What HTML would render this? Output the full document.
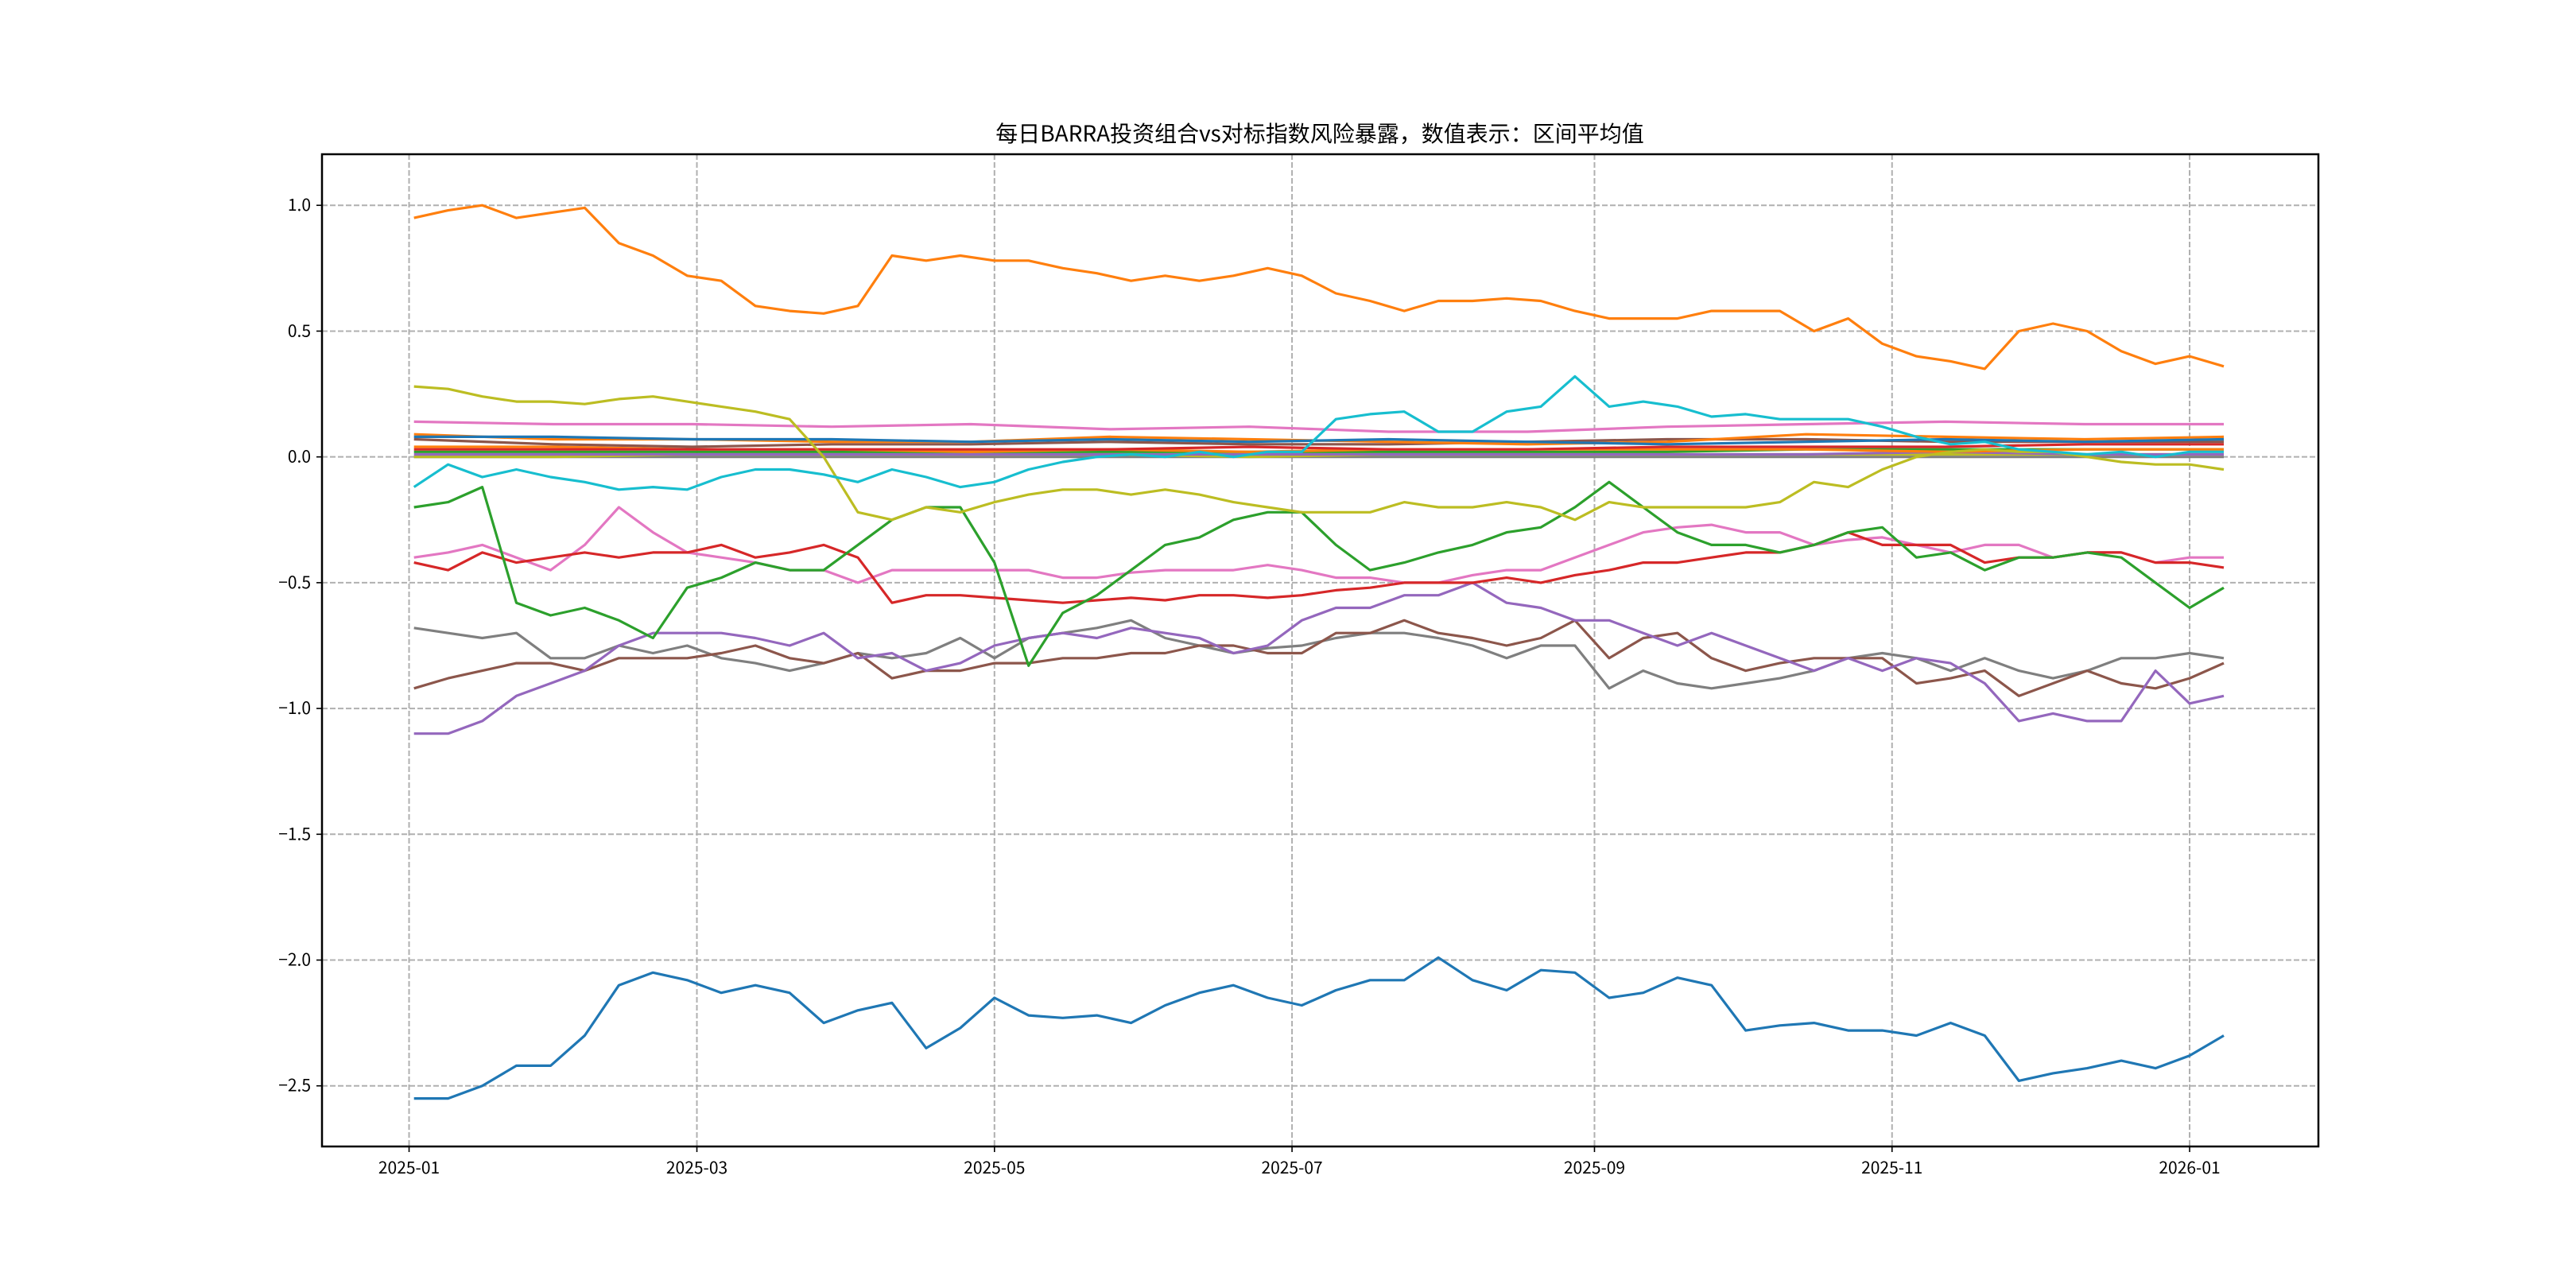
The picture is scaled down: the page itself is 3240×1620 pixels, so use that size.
<!DOCTYPE html>
<html><head><meta charset="utf-8"><style>
html,body{margin:0;padding:0;background:#fff;}
svg{display:block;font-family:"WenQuanYi Zen Hei","Noto Sans CJK SC","Liberation Sans",sans-serif;}
</style></head><body>
<svg id="chart" width="3240" height="1620" xmlns="http://www.w3.org/2000/svg">
<rect x="0" y="0" width="3240" height="1620" fill="#fff"/>
<text x="1660" y="178" text-anchor="middle" font-size="28" fill="#000">每日BARRA投资组合vs对标指数风险暴露，数值表示：区间平均值</text>
<g id="grid"></g>
<g id="series"></g>
<rect x="405" y="194" width="2511" height="1248" fill="none" stroke="#000" stroke-width="2.5"/>
<g id="axes"></g>
</svg>
<script>
const xTickLabels = ["2025-01","2025-03","2025-05","2025-07","2025-09","2025-11","2026-01"];
const xTickDates = ["2025-01-01","2025-03-01","2025-05-01","2025-07-01","2025-09-01","2025-11-01","2026-01-01"];
const yTicks = [-2.5,-2.0,-1.5,-1.0,-0.5,0.0,0.5,1.0];
const weeklyStart = "2025-01-02";
const bundleStart = "2025-01-02";

const blueLow = [-2.55,-2.55,-2.5,-2.42,-2.42,-2.3,-2.1,-2.05,-2.08,-2.13,-2.1,-2.13,-2.25,-2.2,-2.17,-2.35,-2.27,-2.15,-2.22,-2.23,-2.22,-2.25,-2.18,-2.13,-2.1,-2.15,-2.18,-2.12,-2.08,-2.08,-1.99,-2.08,-2.12,-2.04,-2.05,-2.15,-2.13,-2.07,-2.1,-2.28,-2.26,-2.25,-2.28,-2.28,-2.3,-2.25,-2.3,-2.48,-2.45,-2.43,-2.4,-2.43,-2.38,-2.3];
const orangeHigh = [0.95,0.98,1.0,0.95,0.97,0.99,0.85,0.8,0.72,0.7,0.6,0.58,0.57,0.6,0.8,0.78,0.8,0.78,0.78,0.75,0.73,0.7,0.72,0.7,0.72,0.75,0.72,0.65,0.62,0.58,0.62,0.62,0.63,0.62,0.58,0.55,0.55,0.55,0.58,0.58,0.58,0.5,0.55,0.45,0.4,0.38,0.35,0.5,0.53,0.5,0.42,0.37,0.4,0.36];
const olive = [0.28,0.27,0.24,0.22,0.22,0.21,0.23,0.24,0.22,0.2,0.18,0.15,0.0,-0.22,-0.25,-0.2,-0.22,-0.18,-0.15,-0.13,-0.13,-0.15,-0.13,-0.15,-0.18,-0.2,-0.22,-0.22,-0.22,-0.18,-0.2,-0.2,-0.18,-0.2,-0.25,-0.18,-0.2,-0.2,-0.2,-0.2,-0.18,-0.1,-0.12,-0.05,0.0,0.02,0.03,0.02,0.02,0.0,-0.02,-0.03,-0.03,-0.05];
const cyan = [-0.12,-0.03,-0.08,-0.05,-0.08,-0.1,-0.13,-0.12,-0.13,-0.08,-0.05,-0.05,-0.07,-0.1,-0.05,-0.08,-0.12,-0.1,-0.05,-0.02,0.0,0.01,0.0,0.02,0.0,0.02,0.02,0.15,0.17,0.18,0.1,0.1,0.18,0.2,0.32,0.2,0.22,0.2,0.16,0.17,0.15,0.15,0.15,0.12,0.08,0.05,0.06,0.03,0.02,0.01,0.02,0.0,0.02,0.02];
const green = [-0.2,-0.18,-0.12,-0.58,-0.63,-0.6,-0.65,-0.72,-0.52,-0.48,-0.42,-0.45,-0.45,-0.35,-0.25,-0.2,-0.2,-0.42,-0.83,-0.62,-0.55,-0.45,-0.35,-0.32,-0.25,-0.22,-0.22,-0.35,-0.45,-0.42,-0.38,-0.35,-0.3,-0.28,-0.2,-0.1,-0.2,-0.3,-0.35,-0.35,-0.38,-0.35,-0.3,-0.28,-0.4,-0.38,-0.45,-0.4,-0.4,-0.38,-0.4,-0.5,-0.6,-0.52];
const red = [-0.42,-0.45,-0.38,-0.42,-0.4,-0.38,-0.4,-0.38,-0.38,-0.35,-0.4,-0.38,-0.35,-0.4,-0.58,-0.55,-0.55,-0.56,-0.57,-0.58,-0.57,-0.56,-0.57,-0.55,-0.55,-0.56,-0.55,-0.53,-0.52,-0.5,-0.5,-0.5,-0.48,-0.5,-0.47,-0.45,-0.42,-0.42,-0.4,-0.38,-0.38,-0.35,-0.3,-0.35,-0.35,-0.35,-0.42,-0.4,-0.4,-0.38,-0.38,-0.42,-0.42,-0.44];
const pinkLow = [-0.4,-0.38,-0.35,-0.4,-0.45,-0.35,-0.2,-0.3,-0.38,-0.4,-0.42,-0.45,-0.45,-0.5,-0.45,-0.45,-0.45,-0.45,-0.45,-0.48,-0.48,-0.46,-0.45,-0.45,-0.45,-0.43,-0.45,-0.48,-0.48,-0.5,-0.5,-0.47,-0.45,-0.45,-0.4,-0.35,-0.3,-0.28,-0.27,-0.3,-0.3,-0.35,-0.33,-0.32,-0.35,-0.38,-0.35,-0.35,-0.4,-0.38,-0.38,-0.42,-0.4,-0.4];
const purple = [-1.1,-1.1,-1.05,-0.95,-0.9,-0.85,-0.75,-0.7,-0.7,-0.7,-0.72,-0.75,-0.7,-0.8,-0.78,-0.85,-0.82,-0.75,-0.72,-0.7,-0.72,-0.68,-0.7,-0.72,-0.78,-0.75,-0.65,-0.6,-0.6,-0.55,-0.55,-0.5,-0.58,-0.6,-0.65,-0.65,-0.7,-0.75,-0.7,-0.75,-0.8,-0.85,-0.8,-0.85,-0.8,-0.82,-0.9,-1.05,-1.02,-1.05,-1.05,-0.85,-0.98,-0.95];
const brown = [-0.92,-0.88,-0.85,-0.82,-0.82,-0.85,-0.8,-0.8,-0.8,-0.78,-0.75,-0.8,-0.82,-0.78,-0.88,-0.85,-0.85,-0.82,-0.82,-0.8,-0.8,-0.78,-0.78,-0.75,-0.75,-0.78,-0.78,-0.7,-0.7,-0.65,-0.7,-0.72,-0.75,-0.72,-0.65,-0.8,-0.72,-0.7,-0.8,-0.85,-0.82,-0.8,-0.8,-0.8,-0.9,-0.88,-0.85,-0.95,-0.9,-0.85,-0.9,-0.92,-0.88,-0.82];
const gray = [-0.68,-0.7,-0.72,-0.7,-0.8,-0.8,-0.75,-0.78,-0.75,-0.8,-0.82,-0.85,-0.82,-0.78,-0.8,-0.78,-0.72,-0.8,-0.72,-0.7,-0.68,-0.65,-0.72,-0.75,-0.78,-0.76,-0.75,-0.72,-0.7,-0.7,-0.72,-0.75,-0.8,-0.75,-0.75,-0.92,-0.85,-0.9,-0.92,-0.9,-0.88,-0.85,-0.8,-0.78,-0.8,-0.85,-0.8,-0.85,-0.88,-0.85,-0.8,-0.8,-0.78,-0.8];

const bPink = [0.14,0.13,0.13,0.12,0.13,0.11,0.12,0.1,0.1,0.12,0.13,0.14,0.13,0.13];
const bBlue = [0.08,0.08,0.07,0.07,0.06,0.07,0.06,0.07,0.06,0.05,0.06,0.07,0.06,0.07];
const bOrange = [0.09,0.07,0.07,0.06,0.06,0.08,0.07,0.06,0.05,0.06,0.09,0.08,0.07,0.08];
const bBrown = [0.07,0.05,0.04,0.05,0.05,0.06,0.05,0.05,0.06,0.07,0.07,0.06,0.06,0.06];
const bRed = [0.03,0.03,0.03,0.03,0.03,0.03,0.04,0.03,0.03,0.04,0.04,0.04,0.05,0.05];
const bOrange2 = [0.04,0.04,0.03,0.03,0.02,0.03,0.02,0.03,0.03,0.03,0.03,0.02,0.03,0.03];
const bGreen = [0.02,0.02,0.02,0.02,0.02,0.02,0.02,0.02,0.02,0.02,0.03,0.03,0.03,0.03];
const bPurple = [0.01,0.01,0.01,0.01,0.01,0.01,0.01,0.01,0.01,0.01,0.01,0.02,0.01,0.01];
const bGray = [0.0,0.0,0.0,0.0,0.0,0.0,0.0,0.0,0.0,0.0,0.0,0.0,0.0,0.0];
const bOlive = [0.0,0.0,0.01,0.01,0.01,0.01,0.0,0.01,0.01,0.01,0.01,0.01,0.01,0.01];

const X0=405,X1=2916,Y0=194,Y1=1442;
const dayMs=86400000, base=Date.UTC(2025,0,1);
const xMinD=-17.85, xMaxD=391.4, yMin=-2.741, yMax=1.203;
function dayOf(s){const p=s.split('-');return (Date.UTC(+p[0],+p[1]-1,+p[2])-base)/dayMs;}
function xs(d){return X0+(d-xMinD)/(xMaxD-xMinD)*(X1-X0);}
function ys(v){return Y1-(v-yMin)/(yMax-yMin)*(Y1-Y0);}
const NS="http://www.w3.org/2000/svg";
const grid=document.getElementById('grid'), axes=document.getElementById('axes'), ser=document.getElementById('series');
function mk(tag,attrs,parent){const e=document.createElementNS(NS,tag);for(const k in attrs)e.setAttribute(k,attrs[k]);parent.appendChild(e);return e;}

xTickDates.forEach((d,i)=>{
  const x=xs(dayOf(d));
  const g=mk('line',{x1:x,x2:x,y1:Y0,y2:Y1,stroke:'#b0b0b0','stroke-width':2,'stroke-dasharray':'7,3'},grid);
  
  
  const t=mk('line',{x1:x,x2:x,y1:Y1,y2:Y1+7,stroke:'#000','stroke-width':1.6},axes);
  
  
  const l=mk('text',{x:x,y:Y1+34,'text-anchor':'middle','font-size':21,fill:'#000'},axes);
  l.textContent=xTickLabels[i];
  
  
});
yTicks.forEach(v=>{
  const y=ys(v);
  const g=mk('line',{x1:X0,x2:X1,y1:y,y2:y,stroke:'#b0b0b0','stroke-width':2,'stroke-dasharray':'7,3'},grid);
  
  
  const t=mk('line',{x1:X0-7,x2:X0,y1:y,y2:y,stroke:'#000','stroke-width':1.6},axes);
  
  
  const l=mk('text',{x:X0-14,y:y+7,'text-anchor':'end','font-size':21,fill:'#000'},axes);
  l.textContent=(v<0?'\u2212':'')+Math.abs(v).toFixed(1);
  
  
});

function draw(vals,startStr,step,color,name){
  const s=dayOf(startStr);
  const pts=vals.map((v,i)=>xs(s+i*step).toFixed(1)+','+ys(v).toFixed(1)).join(' ');
  const p=mk('polyline',{points:pts,fill:'none',stroke:color,'stroke-width':3.2,'stroke-linejoin':'round'},ser);
  
  
}
const lastDay=dayOf("2026-01-08"), bStep=(lastDay-dayOf(bundleStart))/13;
draw(bGray,bundleStart,bStep,'#7f7f7f','series-gray-zero');
draw(bOlive,bundleStart,bStep,'#bcbd22','series-olive-zero');
draw(bPurple,bundleStart,bStep,'#9467bd','series-purple-zero');
draw(bGreen,bundleStart,bStep,'#2ca02c','series-green-zero');
draw(bOrange2,bundleStart,bStep,'#ff7f0e','series-orange-small');
draw(bRed,bundleStart,bStep,'#d62728','series-red-small');
draw(bBrown,bundleStart,bStep,'#8c564b','series-brown-small');
draw(bOrange,bundleStart,bStep,'#ff7f0e','series-orange-small-2');
draw(bBlue,bundleStart,bStep,'#1f77b4','series-blue-small');
draw(bPink,bundleStart,bStep,'#e377c2','series-pink-high');
draw(blueLow,weeklyStart,7,'#1f77b4','series-blue-low');
draw(orangeHigh,weeklyStart,7,'#ff7f0e','series-orange-high');
draw(gray,weeklyStart,7,'#7f7f7f','series-gray');
draw(brown,weeklyStart,7,'#8c564b','series-brown');
draw(purple,weeklyStart,7,'#9467bd','series-purple');
draw(pinkLow,weeklyStart,7,'#e377c2','series-pink-low');
draw(red,weeklyStart,7,'#d62728','series-red');
draw(green,weeklyStart,7,'#2ca02c','series-green');
draw(olive,weeklyStart,7,'#bcbd22','series-olive');
draw(cyan,weeklyStart,7,'#17becf','series-cyan');
</script>
</body></html>
